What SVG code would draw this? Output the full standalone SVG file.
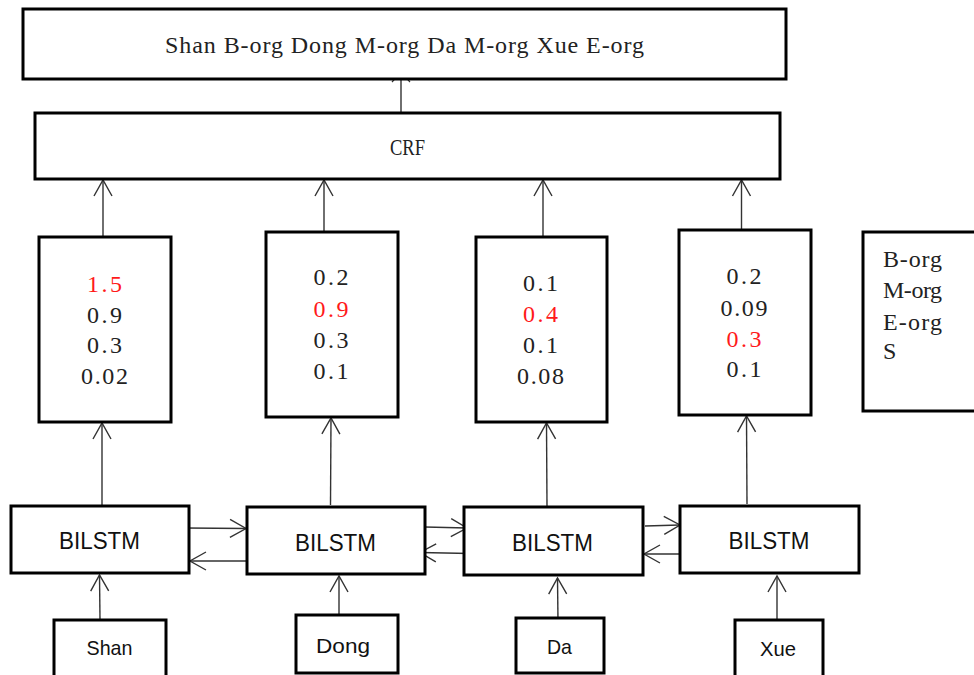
<svg xmlns="http://www.w3.org/2000/svg" width="974" height="675" viewBox="0 0 974 675">
<style>
.box{fill:#fff;stroke:#000;stroke-width:3}
.ln{fill:none;stroke:#333;stroke-width:1.4}
.serif{font-family:"Liberation Serif","Noto Serif",serif;font-size:24px;fill:#222}
.num{font-family:"Liberation Serif",serif;font-size:24px;fill:#222;text-anchor:middle}
.red{fill:#ff1a1a}
.sans{font-family:"Liberation Sans",Arial,sans-serif;fill:#111;text-anchor:middle}
</style>
<defs>
<marker id="ah" viewBox="-18 -11 20 22" refX="0" refY="0" markerWidth="20" markerHeight="22" markerUnits="userSpaceOnUse" orient="auto">
<path d="M-16,-9 L0,0 L-16,9" fill="none" stroke="#333" stroke-width="1.4"/>
</marker>
<marker id="ahs" viewBox="-18 -11 20 22" refX="0" refY="0" markerWidth="20" markerHeight="22" markerUnits="userSpaceOnUse" orient="auto">
<path d="M-10,-9 L0,0 L-10,9" fill="none" stroke="#333" stroke-width="1.2"/>
</marker>
</defs>
<g id="connectors">
<line class="ln" x1="401" y1="112" x2="401" y2="72" marker-end="url(#ahs)"/>
<line class="ln" x1="103" y1="237" x2="103" y2="180" marker-end="url(#ah)"/>
<line class="ln" x1="324" y1="232" x2="324" y2="180" marker-end="url(#ah)"/>
<line class="ln" x1="543" y1="237" x2="543" y2="180" marker-end="url(#ah)"/>
<line class="ln" x1="741.5" y1="236" x2="741.5" y2="180" marker-end="url(#ah)"/>
<line class="ln" x1="102" y1="506" x2="102" y2="423" marker-end="url(#ah)"/>
<line class="ln" x1="330.5" y1="505" x2="331" y2="418" marker-end="url(#ah)"/>
<line class="ln" x1="547" y1="507" x2="546.5" y2="423" marker-end="url(#ah)"/>
<line class="ln" x1="747" y1="504" x2="746.5" y2="416" marker-end="url(#ah)"/>
<line class="ln" x1="100" y1="620" x2="99.5" y2="575" marker-end="url(#ah)"/>
<line class="ln" x1="339" y1="615" x2="339" y2="576" marker-end="url(#ah)"/>
<line class="ln" x1="558" y1="622" x2="557.5" y2="578" marker-end="url(#ah)"/>
<line class="ln" x1="777" y1="620" x2="777" y2="576" marker-end="url(#ah)"/>
<line class="ln" x1="185" y1="528" x2="246" y2="528.5" marker-end="url(#ah)"/>
<line class="ln" x1="246" y1="561" x2="190" y2="561" marker-end="url(#ah)"/>
<line class="ln" x1="425" y1="527" x2="467" y2="528" marker-end="url(#ah)"/>
<line class="ln" x1="470" y1="553.5" x2="420" y2="552.5" marker-end="url(#ah)"/>
<line class="ln" x1="645" y1="526" x2="680" y2="525" marker-end="url(#ah)"/>
<line class="ln" x1="680" y1="554" x2="644" y2="554" marker-end="url(#ah)"/>
</g>
<g id="output">
<rect class="box" x="23" y="9" width="763" height="70"/>
<text class="serif" x="165" y="53" textLength="479" lengthAdjust="spacing">Shan B-org Dong M-org Da M-org Xue E-org</text>
</g>
<g id="crf">
<rect class="box" x="35" y="113" width="745" height="66"/>
<text class="serif" x="390" y="155" textLength="35" lengthAdjust="spacingAndGlyphs">CRF</text>
</g>
<g id="score1">
<rect class="box" x="39" y="237" width="132" height="185"/>
<text class="num red" x="104.5" y="292" textLength="35">1.5</text>
<text class="num" x="104.5" y="323" textLength="35">0.9</text>
<text class="num" x="104.5" y="353" textLength="35">0.3</text>
<text class="num" x="104.5" y="384" textLength="47">0.02</text>
</g>
<g id="score2">
<rect class="box" x="266" y="232" width="132" height="185"/>
<text class="num" x="331" y="285" textLength="35">0.2</text>
<text class="num red" x="331" y="317" textLength="35">0.9</text>
<text class="num" x="331" y="348" textLength="35">0.3</text>
<text class="num" x="331" y="379" textLength="35">0.1</text>
</g>
<g id="score3">
<rect class="box" x="476" y="237" width="131" height="185"/>
<text class="num" x="540.5" y="291" textLength="35">0.1</text>
<text class="num red" x="540.5" y="322" textLength="35">0.4</text>
<text class="num" x="540.5" y="353" textLength="35">0.1</text>
<text class="num" x="540.5" y="384" textLength="47">0.08</text>
</g>
<g id="score4">
<rect class="box" x="679" y="230" width="132" height="185"/>
<text class="num" x="744" y="284" textLength="35">0.2</text>
<text class="num" x="744" y="316" textLength="47">0.09</text>
<text class="num red" x="744" y="347" textLength="35">0.3</text>
<text class="num" x="744" y="377" textLength="35">0.1</text>
</g>
<g id="legend">
<rect class="box" x="863" y="232" width="130" height="179"/>
<text class="serif" x="883" y="267" textLength="59">B-org</text>
<text class="serif" x="883" y="298" textLength="59">M-org</text>
<text class="serif" x="883" y="330" textLength="59">E-org</text>
<text class="serif" x="883" y="359">S</text>
</g>
<g id="bilstm1">
<rect class="box" x="11" y="506" width="178" height="67"/>
<text class="sans" x="99.5" y="549" font-size="23" textLength="81" lengthAdjust="spacingAndGlyphs">BILSTM</text>
</g>
<g id="bilstm2">
<rect class="box" x="247" y="507" width="178" height="67"/>
<text class="sans" x="335.5" y="551" font-size="23" textLength="81" lengthAdjust="spacingAndGlyphs">BILSTM</text>
</g>
<g id="bilstm3">
<rect class="box" x="464" y="507" width="179" height="68"/>
<text class="sans" x="552.5" y="551" font-size="23" textLength="81" lengthAdjust="spacingAndGlyphs">BILSTM</text>
</g>
<g id="bilstm4">
<rect class="box" x="680" y="506" width="179" height="67"/>
<text class="sans" x="769" y="549" font-size="23" textLength="81" lengthAdjust="spacingAndGlyphs">BILSTM</text>
</g>
<g id="shan">
<rect class="box" x="54" y="620" width="112" height="70"/>
<text class="sans" x="109.5" y="655" font-size="21" textLength="46" lengthAdjust="spacingAndGlyphs">Shan</text>
</g>
<g id="dong">
<rect class="box" x="296" y="615" width="102" height="58"/>
<text class="sans" x="343" y="653" font-size="21" textLength="54" lengthAdjust="spacingAndGlyphs">Dong</text>
</g>
<g id="da">
<rect class="box" x="516" y="618" width="88" height="55"/>
<text class="sans" x="559.5" y="654" font-size="21" textLength="25" lengthAdjust="spacingAndGlyphs">Da</text>
</g>
<g id="xue">
<rect class="box" x="735" y="620" width="88" height="70"/>
<text class="sans" x="778" y="656" font-size="21" textLength="36" lengthAdjust="spacingAndGlyphs">Xue</text>
</g>
</svg>
